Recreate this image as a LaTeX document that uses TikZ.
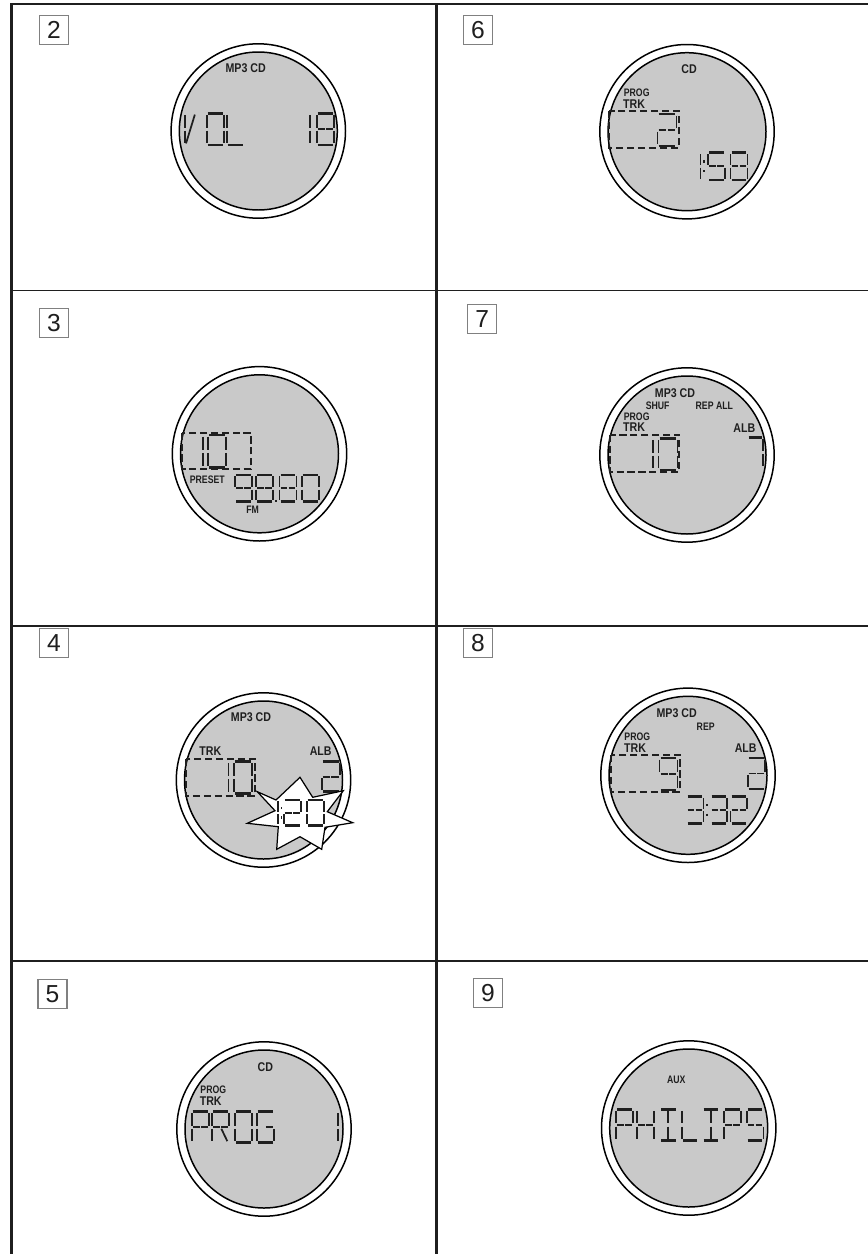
\documentclass[tikz,border=0pt]{standalone}
\usepackage{fontspec}
\setmainfont{Liberation Sans}
\usetikzlibrary{positioning}

\definecolor{lcdgray}{gray}{0.79}
\definecolor{inkgray}{gray}{0.12}
\tikzset{
 lcdseg/.style={inkgray, line width=1pt},
 lcdbar/.style={inkgray, line width=1.5pt},
 stepbox/.style={draw=gray, line width=.6pt, minimum size=.58cm, inner sep=0pt, fill=white, font=\fontsize{14}{15}\selectfont, text=inkgray},
 lcdtag/.style={inner sep=0pt, text=inkgray, xscale=.84, font=\fontsize{7.2}{8}\selectfont\bfseries},
 lcdsmall/.style={inner sep=0pt, text=inkgray, xscale=.8, font=\fontsize{6.2}{7}\selectfont\bfseries},
 trackbox/.style={inkgray, line width=.95pt, dash pattern=on 4.1pt off 2.1pt},
}

% segments of one glyph, unit square
\def\sega{\draw[lcdbar] (.06,0) -- (.94,0);}
\def\segb{\draw[lcdseg] (1,.05) -- (1,.45);}
\def\segc{\draw[lcdseg] (1,.55) -- (1,.95);}
\def\segd{\draw[lcdbar] (.06,1) -- (.94,1);}
\def\sege{\draw[lcdseg] (0,.55) -- (0,.95);}
\def\segf{\draw[lcdseg] (0,.05) -- (0,.45);}
\def\segg{\draw[lcdseg] (.06,.5) -- (.46,.5);}
\def\segh{\draw[lcdseg] (.54,.5) -- (.94,.5);}
\def\segi{\draw[lcdseg] (.5,.05) -- (.5,.45);}
\def\segj{\draw[lcdseg] (.5,.55) -- (.5,.95);}
\def\segk{\draw[lcdseg] (.58,.04) -- (.06,.95);}
\def\segl{\draw[lcdseg] (.55,.55) -- (.9,.95);}
\def\segm{\draw[lcdseg] (0,.28) -- (0,.36); \draw[lcdseg] (0,.64) -- (0,.72);}
\def\segn{\draw[lcdbar] (0,.93) -- (0,1);}

\def\glyphV{f,e,k}
\def\glyphO{a,b,c,d,e,f}
\def\glyphL{f,e,d}
\def\glyphP{a,b,f,e,g,h}
\def\glyphR{a,b,f,e,g,h,l}
\def\glyphG{a,f,e,d,c,h}
\def\glyphH{f,e,b,c,g,h}
\def\glyphI{a,d,i,j}
\def\glyphS{a,f,g,h,c,d}
\expandafter\def\csname glyph0\endcsname{a,b,c,d,e,f}
\expandafter\def\csname glyph1\endcsname{b,c}
\expandafter\def\csname glyph2\endcsname{a,b,g,h,e,d}
\expandafter\def\csname glyph3\endcsname{a,b,g,h,c,d}
\expandafter\def\csname glyph5\endcsname{a,f,g,h,c,d}
\expandafter\def\csname glyph7\endcsname{a,b,c}
\expandafter\def\csname glyph8\endcsname{a,b,c,d,e,f,g,h}
\expandafter\def\csname glyph9\endcsname{a,b,c,d,f,g,h}
\def\glyphcolon{m}
\def\glyphdot{n}

% #1 top, #2 glyph width, #3 glyph height, #4 list glyph/left edge
\newcommand{\lcdrow}[4]{
 \foreach \ch/\xx in {#4}{
  \begin{scope}[shift={(\xx,#1)},xscale=#2,yscale=#3]
   \edef\seglist{\csname glyph\ch\endcsname}
   \foreach \sg in \seglist{\csname seg\sg\endcsname}
  \end{scope}
 }
}
% #1 centre x, #2 centre y
\newcommand{\lcddisc}[2]{
 \draw[black, line width=.85pt, fill=white] (#1,#2) circle (87.2);
 \draw[black, line width=.85pt, fill=lcdgray] (#1,#2) circle (79);
}

\begin{document}
\begin{tikzpicture}[x=.02cm,y=-.02cm]
 \useasboundingbox (0,0) rectangle (868,1254);

 % frame
 \draw[inkgray, line width=1.7pt] (868,4) -- (11.5,4) -- (11.5,1254);
 \draw[inkgray, line width=1.7pt] (436.5,4) -- (436.5,1254);
 \draw[inkgray, line width=.8pt] (11.5,290.5) -- (868,290.5);
 \draw[inkgray, line width=.8pt] (11.5,626) -- (868,626);
 \draw[inkgray, line width=.8pt] (11.5,961) -- (868,961);

 % step numbers
 \node[stepbox] (num2) at (54,30) {2};
 \node[stepbox] (num3) at (54,323) {3};
 \node[stepbox] (num4) at (54,643) {4};
 \node[stepbox] (num5) at (52.5,994.3) {5};
 \node[stepbox] (num6) at (478,30) {6};
 \node[stepbox] (num7) at (482.3,319.3) {7};
 \node[stepbox] (num8) at (478,643) {8};
 \node[stepbox] (num9) at (488,992.7) {9};

 % volume
 \lcddisc{258.3}{131}
 \node[lcdtag] (tag2) at (245.7,68.3) {MP3 CD};
 \lcdrow{113.3}{17}{31.7}{V/185,O/206.7,L/226.7,1/293,8/316.7}

 % preset
 \lcddisc{259.5}{453.8}
 \draw[trackbox] (182.3,432.7) rectangle (250.7,469.3);
 \node[lcdsmall] (tag3a) at (207.3,479.3) {PRESET};
 \node[lcdsmall] (tag3b) at (252.7,509.3) {FM};
 \lcdrow{435}{17.7}{32.3}{1/185,0/208.3}
 \lcdrow{475}{17}{26.7}{9/235,8/256,8/279.5,0/301.7,dot/276}

 % time
 \lcddisc{263.5}{780}
 \draw[trackbox] (186,759) rectangle (255,795.7);
 \node[lcdtag] (tag4a) at (251,716.7) {MP3 CD};
 \node[lcdtag] (tag4b) at (210.3,751) {TRK};
 \node[lcdtag] (tag4c) at (320.7,751) {ALB};
 \lcdrow{761.7}{17.4}{31.6}{1/211,0/234.3}
 \lcdrow{761.7}{18}{30}{2/321.7}
 \draw[black, line width=.7pt, fill=white] (257.3,791.7) -- (276,800) -- (300,777.3) -- (312.7,797.3) -- (343.3,790.7) -- (327.3,811.7) -- (352.7,822.7) -- (325,827.3) -- (321.7,849.3) -- (300,836.7) -- (276.7,849.3) -- (278.3,826.7) -- (247.3,823.3) -- (275,810.7) -- cycle;
 \lcdrow{800}{17.4}{25.7}{1/260.6,colon/281.5,2/283.8,0/306.7}

 % programme
 \lcddisc{264}{1129}
 \node[lcdtag] (tag5a) at (265.3,1066.7) {CD};
 \node[lcdsmall] (tag5b) at (213.3,1089.3) {PROG};
 \node[lcdtag] (tag5c) at (210.7,1100.7) {TRK};
 \lcdrow{1111.7}{17}{31}{P/191.7,R/212,O/235,G/256.7,1/321.3}

 % track and time
 \lcddisc{687}{131.7}
 \draw[trackbox] (609.3,111) rectangle (678.7,147.7);
 \node[lcdtag] (tag6a) at (689,69) {CD};
 \node[lcdsmall] (tag6b) at (636.7,92.3) {PROG};
 \node[lcdtag] (tag6c) at (634,104) {TRK};
 \lcdrow{114}{19}{32}{2/657.5}
 \lcdrow{152.7}{17}{27.3}{1/683.5,colon/704,5/708.3,8/730.5}

 % shuffle
 \lcddisc{687}{455}
 \draw[trackbox] (610,434.7) rectangle (679.3,471.7);
 \node[lcdtag] (tag7a) at (675,392.7) {MP3 CD};
 \node[lcdsmall] (tag7b) at (657.7,405.7) {SHUF};
 \node[lcdsmall] (tag7c) at (714.3,405.7) {REP ALL};
 \node[lcdsmall] (tag7d) at (636.7,416.7) {PROG};
 \node[lcdtag] (tag7e) at (634,427.3) {TRK};
 \node[lcdtag] (tag7f) at (744.3,427.7) {ALB};
 \lcdrow{438.3}{19}{31.7}{1/633.7,0/658.5}
 \lcdrow{437.7}{15.3}{30.3}{7/747.8}

 % repeat
 \lcddisc{688}{775.3}
 \draw[trackbox] (611,755) rectangle (680,791.7);
 \node[lcdtag] (tag8a) at (676.7,713.3) {MP3 CD};
 \node[lcdsmall] (tag8b) at (705.7,726.7) {REP};
 \node[lcdsmall] (tag8c) at (637.3,736.7) {PROG};
 \node[lcdtag] (tag8d) at (635,747.7) {TRK};
 \node[lcdtag] (tag8e) at (745.7,747.7) {ALB};
 \lcdrow{758}{18}{32}{9/659.5}
 \lcdrow{758}{17.3}{31}{2/747.7}
 \lcdrow{796.7}{16.7}{26.6}{3/686.7,colon/707,3/710.5,2/730.5}

 % aux
 \lcddisc{688.7}{1128}
 \node[lcdsmall] (tag9) at (676.3,1080) {AUX};
 \lcdrow{1109.3}{16.7}{31.4}{P/616,H/637.3,I/660,L/681.7,I/702.7,P/724,S/746.7}
\end{tikzpicture}
\end{document}
